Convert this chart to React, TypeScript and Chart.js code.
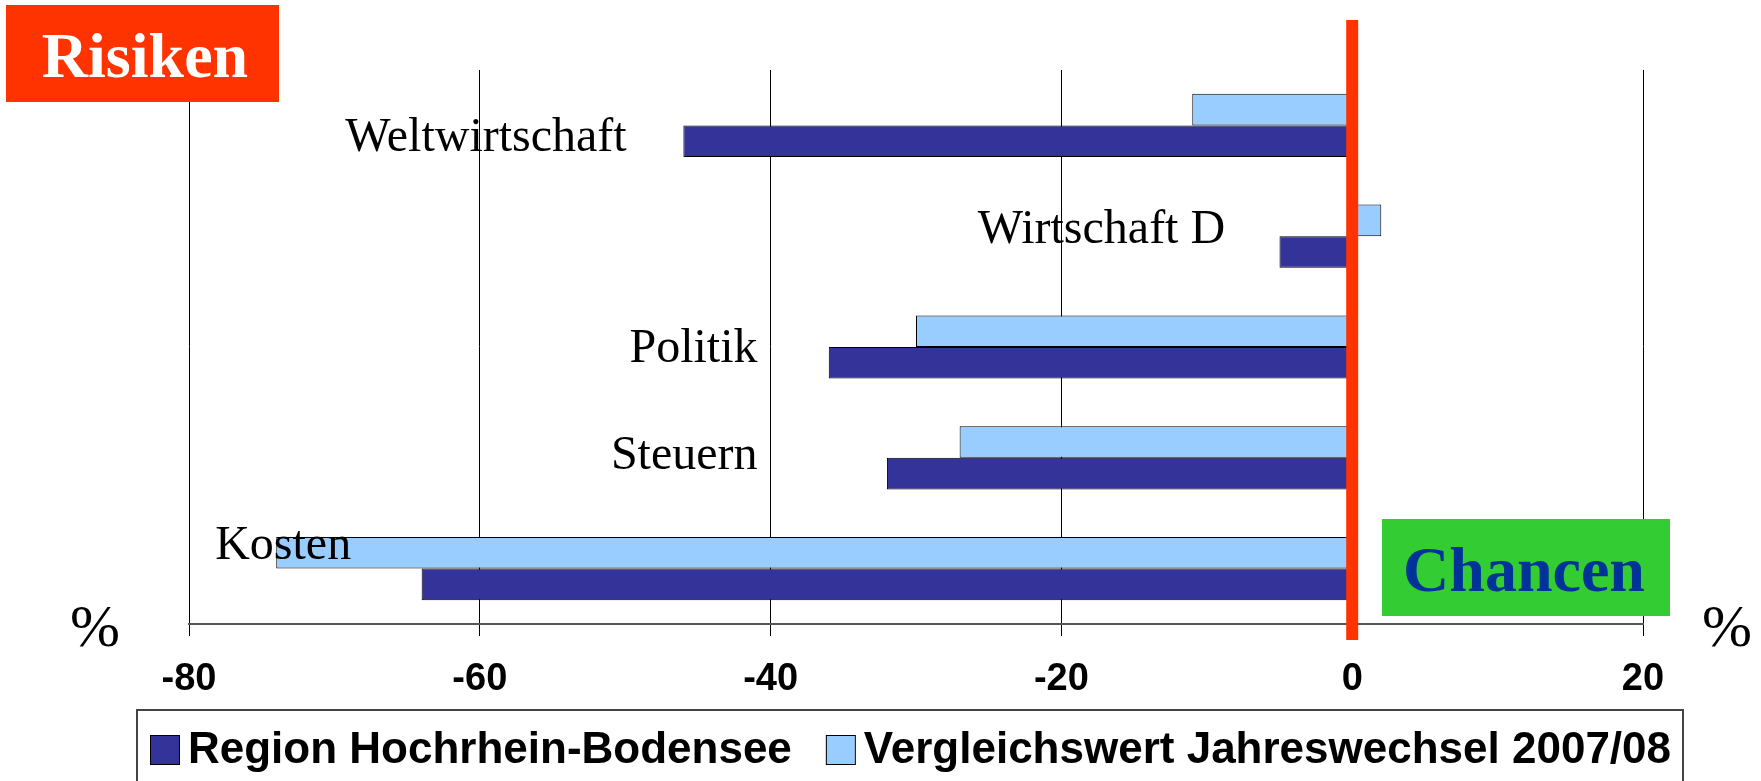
import React, { useEffect, useRef } from 'react';
import { Chart, registerables } from 'chart.js';

Chart.register(...registerables);

// ---- data ----
const categories = ['Weltwirtschaft', 'Wirtschaft D', 'Politik', 'Steuern', 'Kosten'];
const regionValues = [-46, -5, -36, -32, -64];
const comparisonValues = [-11, 2, -30, -27, -74];
const seriesNames = ['Region Hochrhein-Bodensee', 'Vergleichswert Jahreswechsel 2007/08'];
const axisMin = -80;
const axisMax = 20;
const axisStep = 20;
const unitLabel = '%';
const riskText = 'Risiken';
const chanceText = 'Chancen';

// ---- layout / style (not data) ----
const labelPlacement = [
  { at: -49.9, align: 'right', dy: 25.3 },
  { at: -8.74, align: 'right', dy: 6.5 },
  { at: -40.9, align: 'right', dy: 14.7 },
  { at: -40.9, align: 'right', dy: 11.5 },
  { at: -78.2, align: 'left', dy: -9.6 },
];
const DARK = '#333399';
const LIGHT = '#99CCFF';
const RED = '#FF3300';
const GREEN = '#33CC33';
const SERIF = '"Liberation Serif", "Times New Roman", serif';
const SANS = '"Liberation Sans", Arial, sans-serif';

const decorPlugin = {
  id: 'decor',
  afterDatasetsDraw(chart: any) {
    const ctx = chart.ctx;
    const xs = chart.scales.x;
    const ys = chart.scales.y;
    ctx.save();
    // category labels
    ctx.fillStyle = '#000';
    ctx.font = `48px ${SERIF}`;
    ctx.textBaseline = 'alphabetic';
    chart.data.labels.forEach((lab: string, i: number) => {
      const p = labelPlacement[i];
      ctx.textAlign = p.align;
      ctx.fillText(lab, xs.getPixelForValue(p.at), ys.getPixelForValue(i) + p.dy);
    });
    // red zero line
    const x0 = xs.getPixelForValue(0);
    ctx.fillStyle = RED;
    ctx.fillRect(x0 - 6, 20, 12, 620);
    ctx.restore();
  },
  afterDraw(chart: any) {
    const ctx = chart.ctx;
    ctx.save();
    // Risiken box
    ctx.fillStyle = RED;
    ctx.fillRect(6, 5, 273, 97);
    ctx.fillStyle = '#FFFFFF';
    ctx.font = `bold 64px ${SERIF}`;
    ctx.textAlign = 'center';
    ctx.textBaseline = 'alphabetic';
    ctx.fillText(riskText, 145, 77);
    // Chancen box
    ctx.fillStyle = GREEN;
    ctx.fillRect(1382, 519, 288, 97);
    ctx.fillStyle = '#003399';
    ctx.fillText(chanceText, 1524, 591);
    // % labels
    ctx.fillStyle = '#000';
    ctx.font = `60px ${SERIF}`;
    ctx.textAlign = 'left';
    ctx.fillText(unitLabel, 70, 646);
    ctx.fillText(unitLabel, 1702, 646);

    // legend
    ctx.strokeStyle = '#444';
    ctx.lineWidth = 2;
    ctx.strokeRect(137, 710, 1546, 100);
    ctx.font = `bold 44px ${SANS}`;
    const items = [1, 0].map((i) => chart.data.datasets[i]);
    const sq = 29;
    const gapSq = 9;
    const gapItem = 34;
    const widths = items.map((d: any) => ctx.measureText(d.label).width);
    let x = 150;
    items.forEach((d: any, k: number) => {
      ctx.fillStyle = d.backgroundColor;
      ctx.fillRect(x, 735, sq, sq);
      ctx.strokeStyle = '#000';
      ctx.lineWidth = 1;
      ctx.strokeRect(x + 0.5, 735.5, sq, sq);
      ctx.fillStyle = '#000';
      ctx.textAlign = 'left';
      ctx.fillText(d.label, x + sq + gapSq, 763);
      x += sq + gapSq + widths[k] + gapItem;
    });
    ctx.restore();
  },
};

export default function App() {
  const ref = useRef<HTMLCanvasElement | null>(null);
  useEffect(() => {
    if (!ref.current) return;
    const chart = new Chart(ref.current, {
      type: 'bar',
      data: {
        labels: categories,
        datasets: [
          {
            label: seriesNames[1],
            data: comparisonValues,
            backgroundColor: LIGHT,
            borderColor: '#000',
            borderWidth: 1,
          },
          {
            label: seriesNames[0],
            data: regionValues,
            backgroundColor: DARK,
            borderColor: '#000',
            borderWidth: 1,
          },
        ],
      },
      options: {
        indexAxis: 'y',
        animation: false,
        responsive: false,
        devicePixelRatio: 1,
        layout: { padding: { left: 189, right: 118, top: 70, bottom: 87 } },
        datasets: { bar: { barPercentage: 1, categoryPercentage: 0.57 } },
        plugins: { legend: { display: false }, tooltip: { enabled: false } },
        scales: {
          x: {
            type: 'linear',
            min: axisMin,
            max: axisMax,
            afterFit: (s: any) => { s.height = 70; },
            ticks: {
              stepSize: axisStep,
              color: '#000',
              padding: 21,
              font: { family: SANS, size: 38, weight: 'bold' },
            },
            grid: { color: '#000', lineWidth: 1, tickLength: 12, tickColor: '#000' },
            border: { display: true, color: '#555', width: 2 },
          },
          y: { display: false },
        },
      },
      plugins: [decorPlugin],
    } as any);
    return () => chart.destroy();
  }, []);
  return (
    <div style={{ position: 'fixed', left: 0, top: 0, width: 1761, height: 781, background: '#fff' }}>
      <canvas ref={ref} width={1761} height={781} style={{ width: 1761, height: 781, display: 'block' }} />
    </div>
  );
}
